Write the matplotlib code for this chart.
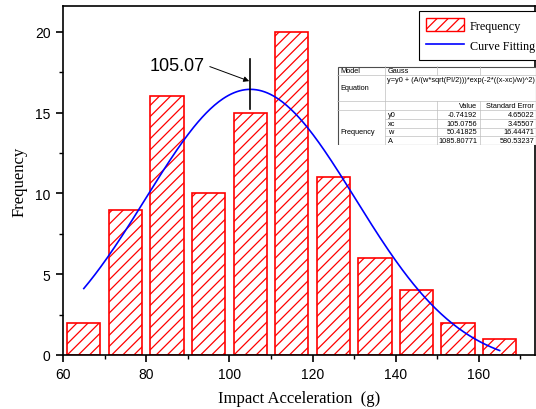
import numpy as np
import matplotlib
import matplotlib.pyplot as plt
from matplotlib.patches import Patch, Rectangle
from matplotlib.lines import Line2D
from matplotlib.ticker import MultipleLocator

matplotlib.rcParams["hatch.color"] = "red"
matplotlib.rcParams["hatch.linewidth"] = 0.9

# histogram data
bin_centers = [65, 75, 85, 95, 105, 115, 125, 135, 145, 155, 165]
counts = [2, 9, 16, 10, 15, 20, 11, 6, 4, 2, 1]

# Gauss fit parameters (from the fit table)
param_names = ["y0", "xc", "w", "A"]
param_values = [-0.74192, 105.0756, 50.41825, 1085.80771]
param_errors = [4.65022, 3.45507, 16.44471, 580.53237]
y0, xc, w, A = param_values
fit_x = np.linspace(65, 165, 300)
fit_y = y0 + (A / (w * np.sqrt(np.pi / 2))) * np.exp(-2 * ((fit_x - xc) / w) ** 2)

serif = "Liberation Serif"
sans = "Liberation Sans"

fig = plt.figure(figsize=(5.36, 4.10), dpi=100)
ax = fig.add_axes([63 / 536, 54 / 410, 472 / 536, 349 / 410])

ax.bar(bin_centers, counts, width=8, color="white", edgecolor="red",
       hatch="///", linewidth=1.2, zorder=2)
ax.plot(fit_x, fit_y, color="blue", linewidth=1.2, zorder=3)

# peak marker
ax.plot([xc, xc], [15.2, 18.3], color="black", linewidth=1.2, zorder=4)
ax.text(87.4, 17.9, "105.07", fontsize=13, family=sans, ha="center", va="center")
ax.annotate("", xy=(xc - 0.3, 16.95), xytext=(95.3, 17.85),
            arrowprops=dict(arrowstyle="-|>", color="black", lw=0.7,
                            mutation_scale=8, shrinkA=0, shrinkB=0))

ax.set_xlim(60, 173.5)
ax.set_ylim(0, 21.6)
ax.xaxis.set_major_locator(MultipleLocator(20))
ax.xaxis.set_minor_locator(MultipleLocator(10))
ax.yaxis.set_major_locator(MultipleLocator(5))
ax.yaxis.set_minor_locator(MultipleLocator(2.5))
ax.tick_params(which="both", direction="out", top=False, right=False, labelsize=10)
ax.tick_params(which="major", length=5, width=1.2, pad=4)
ax.tick_params(which="minor", length=3, width=1.0)
for lab in ax.get_xticklabels() + ax.get_yticklabels():
    lab.set_family(sans)
for sp in ax.spines.values():
    sp.set_linewidth(1.2)

ax.set_xlabel("Impact Acceleration  (g)", family=serif, fontsize=12, labelpad=6)
ax.set_ylabel("Frequency", family=serif, fontsize=12, labelpad=5)

handles = [Patch(facecolor="white", edgecolor="red", hatch="///", label="Frequency"),
           Line2D([0], [0], color="blue", lw=1.2, label="Curve Fitting")]
leg = fig.legend(handles=handles, loc="upper left",
                 bbox_to_anchor=(419 / 536, (410 - 12) / 410),
                 prop={"family": serif, "size": 8.7}, fancybox=False,
                 edgecolor="black", framealpha=1, borderaxespad=0.0,
                 handlelength=3.1, handleheight=1.2, labelspacing=0.62,
                 borderpad=0.6, handletextpad=0.5)
leg.get_frame().set_linewidth(0.8)

# fit result table
tw, th = 199, 79
tx = fig.add_axes([337 / 536, (410 - 146) / 410, tw / 536, th / 410])
tx.set_xlim(0, tw)
tx.set_ylim(th, 0)
tx.axis("off")
tx.add_patch(Rectangle((0.5, 0.5), tw - 1, th - 1, facecolor="white",
                       edgecolor="0.3", lw=0.8))
rows = [0, 9, 35, 44, 53, 61.5, 70, 79]
lc = "0.75"
for yy in rows[1:-1]:
    x_start = 48 if yy in rows[4:7] else 0
    tx.plot([x_start, tw], [yy, yy], color=lc, lw=0.5)
tx.plot([48, 48], [0, th], color=lc, lw=0.5)
for cx in (100, 143):
    tx.plot([cx, cx], [0, 9], color=lc, lw=0.5)
    tx.plot([cx, cx], [35, th], color=lc, lw=0.5)
kw = dict(fontsize=5.3, family=sans, va="center")
tx.text(3, 4.5, "Model", **kw)
tx.text(51, 4.5, "Gauss", **kw)
tx.text(3, 22, "Equation", **kw)
tx.text(50, 14, "y=y0 + (A/(w*sqrt(PI/2)))*exp(-2*((x-xc)/w)^2)", **kw)
tx.text(140, 39.5, "Value", ha="right", **kw)
tx.text(197, 39.5, "Standard Error", ha="right", **kw)
tx.text(3, 66, "Frequency", **kw)
for i, (n, v, e) in enumerate(zip(param_names, param_values, param_errors)):
    yy = (rows[3 + i] + rows[4 + i]) / 2
    tx.text(51, yy, n, **kw)
    tx.text(140, yy, ("%.5f" % v).rstrip("0"), ha="right", **kw)
    tx.text(197, yy, ("%.5f" % e).rstrip("0"), ha="right", **kw)

fig.savefig("out.png", dpi=100)
